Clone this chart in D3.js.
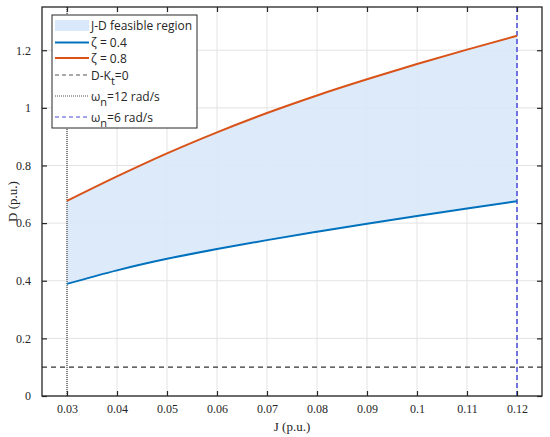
<!DOCTYPE html>
<html>
<head>
<meta charset="utf-8">
<script src="https://cdn.jsdelivr.net/npm/d3@7"></script>
<style>
  body { margin: 0; background: #fff; }
  .tick-label { font-family: "Liberation Serif", "Times New Roman", serif; font-size: 12px; fill: #262626; }
  .axis-label { font-family: "Liberation Serif", "Times New Roman", serif; font-size: 13px; fill: #262626; }
  .legend-text { font-family: "Open Sans", "Noto Sans", sans-serif; font-size: 12px; fill: #262626; }
</style>
</head>
<body>
<div id="chart"></div>
<script>
// values
const jValues = [0.03, 0.04, 0.05, 0.06, 0.07, 0.08, 0.09, 0.10, 0.11, 0.12];
const dZeta04 = [0.389, 0.436, 0.476, 0.510, 0.541, 0.570, 0.598, 0.625, 0.651, 0.676];
const dZeta08 = [0.677, 0.762, 0.842, 0.915, 0.982, 1.043, 1.099, 1.152, 1.202, 1.250];
const dKtZero = 0.1;
const jOmega12 = 0.03;
const jOmega6 = 0.12;
const xTicks = [0.03, 0.04, 0.05, 0.06, 0.07, 0.08, 0.09, 0.1, 0.11, 0.12];
const yTicks = [0, 0.2, 0.4, 0.6, 0.8, 1, 1.2];

const width = 550, height = 437;
const margin = {top: 7, right: 8, bottom: 41, left: 42};
const innerW = width - margin.left - margin.right;
const innerH = height - margin.top - margin.bottom;

const svg = d3.select('#chart').append('svg')
  .attr('width', width)
  .attr('height', height);

const g = svg.append('g')
  .attr('transform', `translate(${margin.left},${margin.top})`);

const x = d3.scaleLinear().domain([0.025, 0.125]).range([0, innerW]);
const y = d3.scaleLinear().domain([0, 1.35]).range([innerH, 0]);

// grid
g.selectAll('.grid-x').data(xTicks).enter().append('line')
  .attr('x1', d => x(d)).attr('x2', d => x(d))
  .attr('y1', 0).attr('y2', innerH)
  .attr('stroke', '#e3e3e3').attr('stroke-width', 1);
g.selectAll('.grid-y').data(yTicks).enter().append('line')
  .attr('x1', 0).attr('x2', innerW)
  .attr('y1', d => y(d)).attr('y2', d => y(d))
  .attr('stroke', '#e3e3e3').attr('stroke-width', 1);

const rows = jValues.map((j, i) => ({j: j, lo: dZeta04[i], hi: dZeta08[i]}));
const curve = d3.curveMonotoneX;

// feasible region
g.append('path')
  .datum(rows)
  .attr('fill', '#d9e8fa')
  .attr('fill-opacity', 0.9)
  .attr('d', d3.area().curve(curve).x(d => x(d.j)).y0(d => y(d.lo)).y1(d => y(d.hi)));

// D-Kt=0
g.append('line')
  .attr('x1', 0).attr('x2', innerW)
  .attr('y1', y(dKtZero)).attr('y2', y(dKtZero))
  .attr('stroke', '#333').attr('stroke-width', 1.2).attr('stroke-dasharray', '5,4');

// wn=12
g.append('line')
  .attr('x1', x(jOmega12)).attr('x2', x(jOmega12))
  .attr('y1', 0).attr('y2', innerH)
  .attr('stroke', '#222').attr('stroke-width', 1).attr('stroke-dasharray', '1,1');

// wn=6
g.append('line')
  .attr('x1', x(jOmega6)).attr('x2', x(jOmega6))
  .attr('y1', 0).attr('y2', innerH)
  .attr('stroke', '#4a4ad6').attr('stroke-width', 1.5).attr('stroke-dasharray', '5,3');

// curves
g.append('path').datum(rows)
  .attr('fill', 'none').attr('stroke', '#0072bd').attr('stroke-width', 2)
  .attr('d', d3.line().curve(curve).x(d => x(d.j)).y(d => y(d.lo)));
g.append('path').datum(rows)
  .attr('fill', 'none').attr('stroke', '#d95319').attr('stroke-width', 2)
  .attr('d', d3.line().curve(curve).x(d => x(d.j)).y(d => y(d.hi)));

// axes (box with inner ticks on all sides)
const tickLen = 5;
g.append('g').attr('transform', `translate(0,${innerH})`)
  .call(d3.axisBottom(x).tickValues(xTicks).tickSizeInner(-tickLen).tickSizeOuter(0).tickPadding(8).tickFormat(d3.format('~g')))
  .call(a => a.select('.domain').remove())
  .call(a => a.selectAll('text').attr('class', 'tick-label').attr('fill', null));
g.append('g')
  .call(d3.axisLeft(y).tickValues(yTicks).tickSizeInner(-tickLen).tickSizeOuter(0).tickPadding(11).tickFormat(d3.format('~g')))
  .call(a => a.select('.domain').remove())
  .call(a => a.selectAll('text').attr('class', 'tick-label').attr('fill', null));
g.append('g')
  .call(d3.axisTop(x).tickValues(xTicks).tickSizeInner(-tickLen).tickSizeOuter(0).tickFormat(''))
  .call(a => a.select('.domain').remove());
g.append('g').attr('transform', `translate(${innerW},0)`)
  .call(d3.axisRight(y).tickValues(yTicks).tickSizeInner(-tickLen).tickSizeOuter(0).tickFormat(''))
  .call(a => a.select('.domain').remove());
g.selectAll('.tick line').attr('stroke', '#262626').attr('stroke-width', 1.2);

g.append('rect')
  .attr('width', innerW).attr('height', innerH)
  .attr('fill', 'none').attr('stroke', '#262626').attr('stroke-width', 1.3);

// axis labels
svg.append('text').attr('class', 'axis-label')
  .attr('x', margin.left + innerW / 2).attr('y', 431)
  .attr('text-anchor', 'middle').text('J (p.u.)');
svg.append('text').attr('class', 'axis-label')
  .attr('transform', `translate(17,${margin.top + innerH / 2}) rotate(-90)`)
  .attr('text-anchor', 'middle').text('D (p.u.)');

// legend
const lg = svg.append('g').attr('transform', 'translate(52,15)');
lg.append('rect').attr('width', 145).attr('height', 113)
  .attr('fill', '#fff').attr('stroke', '#262626').attr('stroke-width', 1);

const items = [
  {type: 'fill', y: 10, parts: [['J-D feasible region']]},
  {type: 'line', y: 27.5, stroke: '#0072bd', w: 2, dash: null, parts: [['\u03b6 = 0.4']]},
  {type: 'line', y: 43, stroke: '#d95319', w: 2, dash: null, parts: [['\u03b6 = 0.8']]},
  {type: 'line', y: 60, stroke: '#555', w: 1.2, dash: '4,3', parts: [['D-K'], ['t', 'sub'], ['=0']]},
  {type: 'line', y: 81, stroke: '#555', w: 1, dash: '1,1', parts: [['\u03c9'], ['n', 'sub'], ['=12 rad/s']]},
  {type: 'line', y: 102, stroke: '#4a4ad6', w: 1.2, dash: '4,3', parts: [['\u03c9'], ['n', 'sub'], ['=6 rad/s']]}
];

items.forEach(it => {
  if (it.type === 'fill') {
    lg.append('rect').attr('x', 3).attr('y', it.y - 5).attr('width', 34).attr('height', 11).attr('fill', '#d9e8fa');
  } else {
    lg.append('line').attr('x1', 3).attr('x2', 37).attr('y1', it.y).attr('y2', it.y)
      .attr('stroke', it.stroke).attr('stroke-width', it.w)
      .attr('stroke-dasharray', it.dash);
  }
  const t = lg.append('text').attr('class', 'legend-text')
    .attr('x', 39).attr('y', it.y + 4.5);
  it.parts.forEach(p => {
    const s = t.append('tspan').text(p[0]);
    if (p[1] === 'sub') s.attr('font-size', '11px').attr('dy', 5);
    else if (t.selectAll('tspan').size() > 1) s.attr('dy', -5);
  });
});
</script>
</body>
</html>
